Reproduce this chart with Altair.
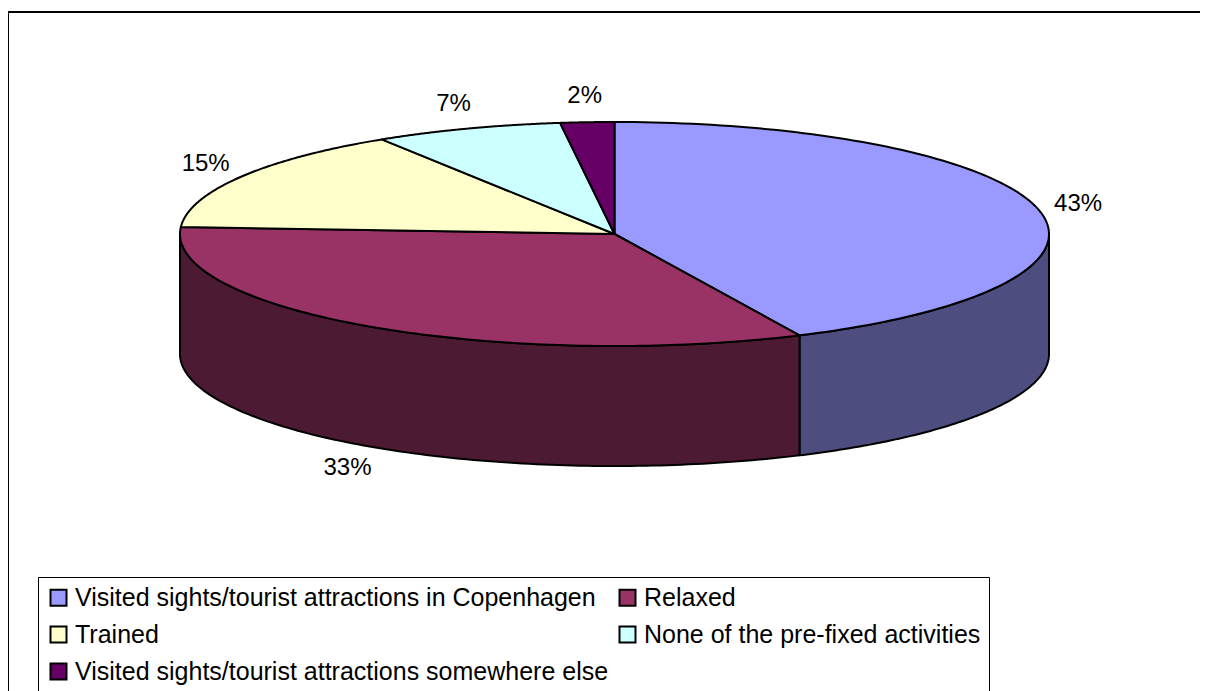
import altair as alt
import pandas as pd

categories = [
    "Visited sights/tourist attractions in Copenhagen",
    "Relaxed",
    "Trained",
    "None of the pre-fixed activities",
    "Visited sights/tourist attractions somewhere else",
]
values = [43, 33, 15, 7, 2]
top_colors = ["#9999FF", "#993366", "#FFFFCC", "#CCFFFF", "#660066"]
side_colors = ["#4D4D80", "#4D1A33", "#80806A", "#6A8080", "#330033"]

df = pd.DataFrame({
    "category": categories,
    "value": values,
    "idx": list(range(len(categories))),
    "side": side_colors,
})

# legend lays out column by column (3 rows): reorder so it reads row by row
legend_order = [0, 2, 4, 1, 3]
legend_domain = [categories[i] for i in legend_order]
legend_range = [top_colors[i] for i in legend_order]

# geometry (styles, not data)
W, H = 1216, 690
CX, CY, A, B, D = 606.5, 222.0, 434.5, 112.0, 120.0
LA, LB = 475.0, 138.0
N = 120
FONT = "Liberation Sans"

xs = alt.Scale(domain=[0, W], nice=False, zero=False)
ys = alt.Scale(domain=[0, H], reverse=True, nice=False, zero=False)

base = (
    alt.Chart(df)
    .transform_joinaggregate(total="sum(value)")
    .transform_window(cum="sum(value)", sort=[alt.SortField("idx")], frame=[None, 0])
    .transform_calculate(
        t0="2*PI*(datum.cum - datum.value)/datum.total",
        t1="2*PI*datum.cum/datum.total",
    )
)

side = (
    base.transform_calculate(lo="max(datum.t0, PI/2)", hi="min(datum.t1, 3*PI/2)")
    .transform_filter("datum.hi > datum.lo")
    .transform_calculate(pts=f"sequence(0, {N + 1})")
    .transform_flatten(["pts"])
    .transform_calculate(
        ang=f"datum.lo + (datum.hi - datum.lo) * datum.pts / {N}",
    )
    .transform_calculate(
        px=f"{CX} + {A}*sin(datum.ang)",
        py=f"{CY} - {B}*cos(datum.ang)",
        py2=f"{CY} - {B}*cos(datum.ang) + {D}",
    )
    .mark_area(stroke="black", strokeWidth=2, strokeJoin="round")
    .encode(
        x=alt.X("px:Q", scale=xs, axis=None),
        y=alt.Y("py:Q", scale=ys, axis=None),
        y2="py2:Q",
        fill=alt.Fill("side:N", scale=None),
        detail="category:N",
    )
)

top = (
    base.transform_calculate(pts=f"sequence(0, {N + 2})")
    .transform_flatten(["pts"])
    .transform_calculate(
        ang=f"datum.t0 + (datum.t1 - datum.t0) * clamp((datum.pts - 1) / {N}, 0, 1)",
    )
    .transform_calculate(
        px=f"datum.pts == 0 ? {CX} : {CX} + {A}*sin(datum.ang)",
        py=f"datum.pts == 0 ? {CY} : {CY} - {B}*cos(datum.ang)",
    )
    .mark_line(filled=True, interpolate="linear-closed", stroke="black",
               strokeWidth=2, strokeJoin="round")
    .encode(
        x=alt.X("px:Q", scale=xs, axis=None),
        y=alt.Y("py:Q", scale=ys, axis=None),
        order="pts:Q",
        color=alt.Color(
            "category:N",
            scale=alt.Scale(domain=legend_domain, range=legend_range),
            legend=alt.Legend(
                title=None,
                orient="none",
                legendX=30,
                legendY=565,
                direction="vertical",
                columns=2,
                gridAlign="all",
                columnPadding=6,
                rowPadding=11,
                padding=8,
                strokeColor="black",
                fillColor="white",
                labelFont=FONT,
                labelFontSize=25,
                labelColor="black",
                labelLimit=2000,
                labelOffset=4,
                symbolType="square",
                symbolSize=256,
                symbolStrokeColor="black",
                symbolStrokeWidth=2,
                symbolOpacity=1,
            ),
        ),
    )
)

labels = (
    base.transform_calculate(mid="(datum.t0 + datum.t1)/2")
    .transform_calculate(
        lx=f"{CX} + {LA}*sin(datum.mid)",
        ly=f"{CY} - {LB}*cos(datum.mid) + (cos(datum.mid) < 0 ? {D} : 0)",
        lab="datum.value + '%'",
    )
    .mark_text(font=FONT, fontSize=24, color="black", align="center", baseline="middle")
    .encode(
        x=alt.X("lx:Q", scale=xs, axis=None),
        y=alt.Y("ly:Q", scale=ys, axis=None),
        text="lab:N",
    )
)

chart = (
    alt.layer(side, top, labels)
    .properties(
        width=W,
        height=H,
        autosize="none",
        padding={"left": 0, "top": 4, "right": -24, "bottom": -11},
        background="white",
    )
    .configure_view(stroke="black", strokeWidth=2)
)

chart.save("out.html", embed_options={"renderer": "svg", "actions": False})
